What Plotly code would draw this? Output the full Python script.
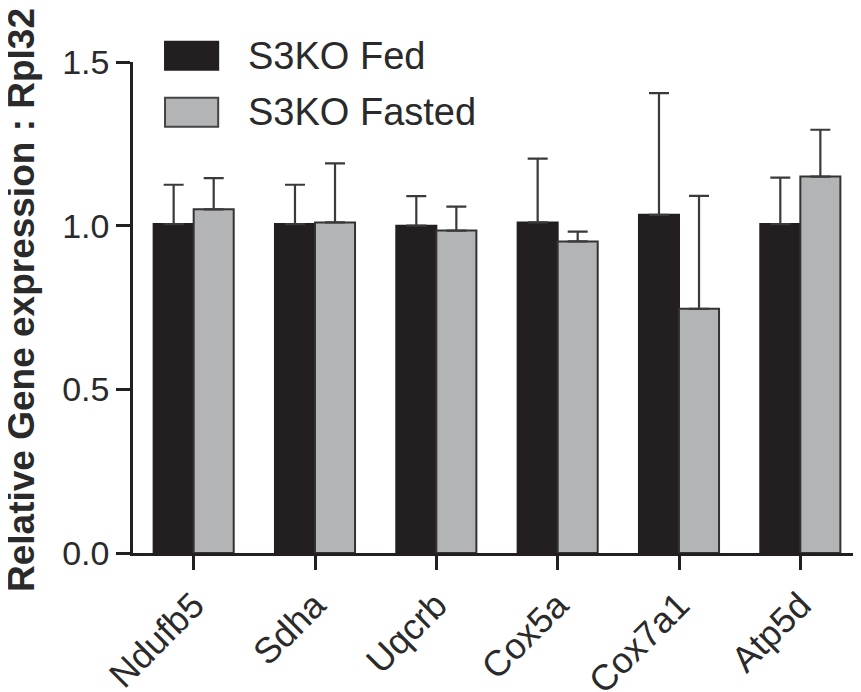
import plotly.graph_objects as go

genes = ["Ndufb5", "Sdha", "Uqcrb", "Cox5a", "Cox7a1", "Atp5d"]
fed_mean = [1.005, 1.005, 1.0, 1.01, 1.033, 1.005]
fed_err = [0.12, 0.12, 0.09, 0.195, 0.372, 0.142]
fasted_mean = [1.05, 1.01, 0.985, 0.952, 0.746, 1.15]
fasted_err = [0.095, 0.18, 0.073, 0.03, 0.345, 0.143]
series_names = ["S3KO Fed", "S3KO Fasted"]
y_ticks = [0.0, 0.5, 1.0, 1.5]

FONT = "Liberation Sans, Arial, Helvetica, sans-serif"
DARK = "#231f20"
GRAY = "#b3b4b6"
ERR = "#3a3a3a"
TXT = "#2a2a2a"

fig = go.Figure()
fig.add_trace(go.Bar(
    x=genes, y=fed_mean, name=series_names[0],
    marker=dict(color=DARK, line=dict(color=DARK, width=2)),
    error_y=dict(type="data", array=fed_err, arrayminus=[0] * len(fed_err),
                 symmetric=False, color=ERR, thickness=2.2, width=10),
    showlegend=False,
))
fig.add_trace(go.Bar(
    x=genes, y=fasted_mean, name=series_names[1],
    marker=dict(color=GRAY, line=dict(color="#333333", width=2)),
    error_y=dict(type="data", array=fasted_err, arrayminus=[0] * len(fasted_err),
                 symmetric=False, color=ERR, thickness=2.2, width=10),
    showlegend=False,
))

# legend drawn as shapes + text (large boxes like the original)
leg = [(DARK, DARK, series_names[0], 1.041, 0.984, 1.012),
       (GRAY, "#444444", series_names[1], 0.927, 0.868, 0.898)]
for fill, edge, label, y0, y1, yc in leg:
    fig.add_shape(type="rect", xref="paper", yref="paper",
                  x0=0.044, x1=0.117, y0=y1, y1=y0,
                  fillcolor=fill, line=dict(color=edge, width=2))
    fig.add_annotation(xref="paper", yref="paper", x=0.155, y=yc,
                       text=label, showarrow=False, xanchor="left", yanchor="middle",
                       font=dict(family=FONT, size=38, color=TXT))

fig.add_annotation(xref="paper", yref="paper", x=-0.154, y=0.515,
                   text="<b>Relative Gene expression : Rpl32</b>", textangle=-90,
                   showarrow=False, xanchor="center", yanchor="middle",
                   font=dict(family=FONT, size=37, color=TXT))

fig.update_layout(
    width=853, height=684,
    margin=dict(l=125, r=0, t=54, b=139),
    paper_bgcolor="white", plot_bgcolor="white",
    barmode="group", bargap=0.34, bargroupgap=0,
    font=dict(family=FONT, color=TXT),
)
fig.update_xaxes(
    range=[-0.5, 5.5], showline=True, linecolor=DARK, linewidth=2.5,
    ticks="outside", ticklen=14, tickwidth=2.5, tickcolor=DARK,
    tickangle=-45, tickfont=dict(family=FONT, size=36, color=TXT),
    showgrid=False, zeroline=False, automargin=False,
)
fig.update_yaxes(
    range=[0, 1.5], tickvals=y_ticks, ticktext=[f"{v:.1f}" for v in y_ticks],
    showline=True, linecolor=DARK, linewidth=2.5,
    ticks="outside", ticklen=14, tickwidth=2.5, tickcolor=DARK,
    tickfont=dict(family=FONT, size=34, color=TXT),
    showgrid=False, zeroline=False, automargin=False,
)

fig.write_html("out.html")
